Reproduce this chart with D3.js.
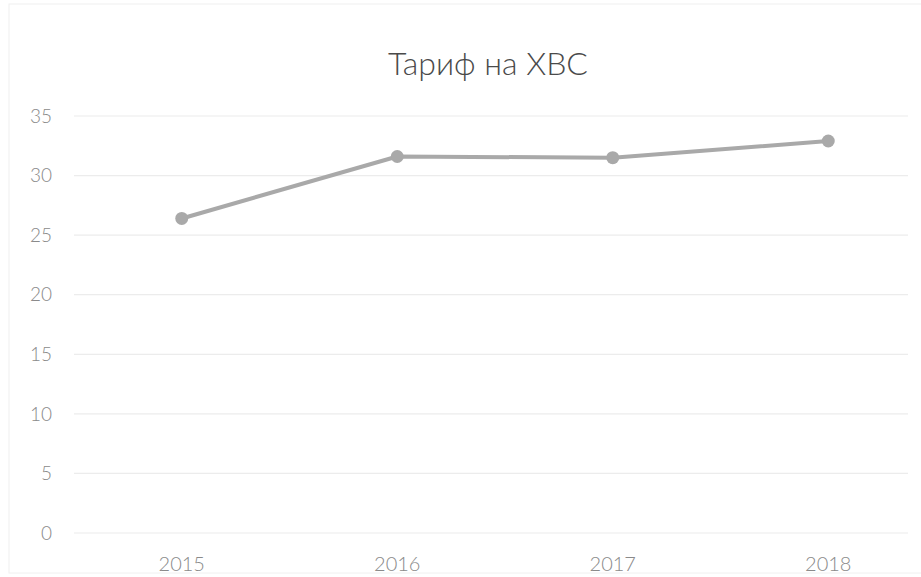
<!DOCTYPE html>
<html>
<head>
<meta charset="utf-8">
<script src="https://cdn.jsdelivr.net/npm/d3@7"></script>
<style>
    body { margin: 0; background: #fff; }
    text { font-family: Lato, "Open Sans", sans-serif; }
</style>
</head>
<body>
<div id="chart"></div>
<script>
// data
const years = ["2015", "2016", "2017", "2018"]
const tariff = [26.4, 31.6, 31.5, 32.9]
const yTicks = [0, 5, 10, 15, 20, 25, 30, 35]
const title = "Тариф на ХВС"

const width = 921
const height = 577
const margin = { top: 116, right: -15, bottom: 44, left: 74 }

const svg = d3.select("#chart").append("svg")
    .attr("width", width)
    .attr("height", height)

// faint outline of the chart area, left by the scan
svg.append("rect")
    .attr("x", 9).attr("y", 4)
    .attr("width", width + 20).attr("height", height - 8)
    .attr("fill", "none")
    .attr("stroke", "#f0f0f0")

const x = d3.scaleBand()
    .domain(years)
    .range([margin.left, width - margin.right])

const y = d3.scaleLinear()
    .domain([0, 35])
    .range([height - margin.bottom, margin.top])

// gridlines
svg.append("g")
    .selectAll("line")
    .data(yTicks)
    .join("line")
    .attr("x1", margin.left)
    .attr("x2", 908)
    .attr("y1", d => y(d))
    .attr("y2", d => y(d))
    .attr("stroke", "#ececec")
    .attr("stroke-width", 1.2)

// y labels
svg.append("g")
    .selectAll("text")
    .data(yTicks)
    .join("text")
    .attr("x", 52)
    .attr("y", d => y(d))
    .attr("dy", "0.35em")
    .attr("text-anchor", "end")
    .attr("font-size", 19)
    .attr("font-weight", 300)
    .attr("fill", "#8a8a8a")
    .text(d => d)

// x labels
svg.append("g")
    .selectAll("text")
    .data(years)
    .join("text")
    .attr("x", d => x(d) + x.bandwidth() / 2)
    .attr("y", height - 6)
    .attr("text-anchor", "middle")
    .attr("font-size", 20)
    .attr("font-weight", 300)
    .attr("fill", "#8a8a8a")
    .text(d => d)

// title
svg.append("text")
    .attr("x", 488)
    .attr("y", 75)
    .attr("text-anchor", "middle")
    .attr("font-size", 32)
    .attr("font-weight", 300)
    .attr("fill", "#4a4a4a")
    .text(title)

const points = years.map((yr, i) => ({ year: yr, value: tariff[i] }))

const line = d3.line()
    .x(d => x(d.year) + x.bandwidth() / 2)
    .y(d => y(d.value))

svg.append("path")
    .datum(points)
    .attr("d", line)
    .attr("fill", "none")
    .attr("stroke", "#a9a9a9")
    .attr("stroke-width", 4)
    .attr("stroke-linejoin", "round")

svg.append("g")
    .selectAll("circle")
    .data(points)
    .join("circle")
    .attr("cx", d => x(d.year) + x.bandwidth() / 2)
    .attr("cy", d => y(d.value))
    .attr("r", 6.5)
    .attr("fill", "#a9a9a9")
</script>
</body>
</html>
